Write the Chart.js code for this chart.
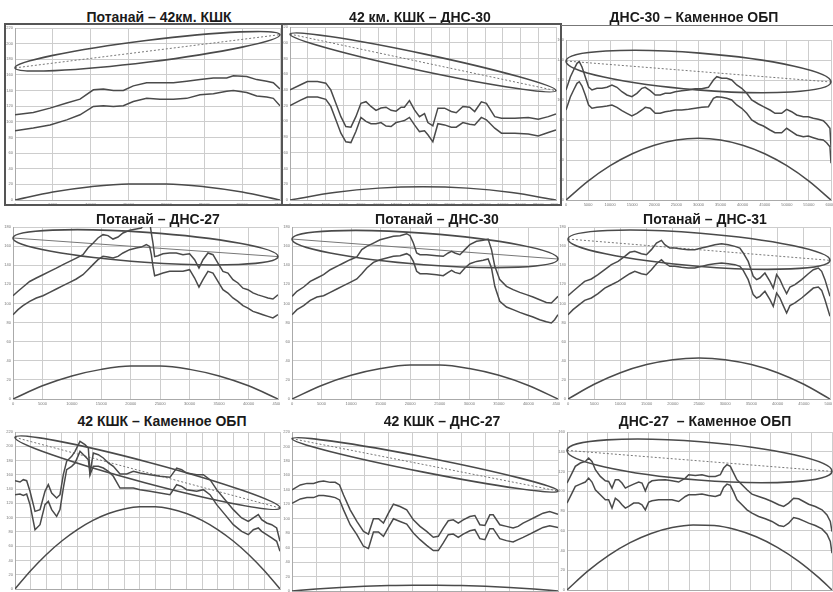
<!DOCTYPE html>
<html>
<head>
<meta charset="utf-8">
<script src="https://cdn.jsdelivr.net/npm/chart.js@4.4.1/dist/chart.umd.min.js"></script>
<style>
  html, body { margin: 0; padding: 0; background: #fff; width: 833px; height: 592px; overflow: hidden; }
  canvas { position: absolute; }
  .ttl { position: absolute; width: 300px; text-align: center; font: bold 14px "Liberation Sans", Arial, sans-serif; line-height: 16px; color: #1a1a1a; white-space: pre; }
  .frm { position: absolute; box-sizing: border-box; pointer-events: none; }
</style>
</head>
<body>
<script>
// заголовки панелей
const titles = ['Потанай – 42км. КШК', '42 км. КШК – ДНС-30', 'ДНС-30 – Каменное ОБП',
  'Потанай – ДНС-27', 'Потанай – ДНС-30', 'Потанай – ДНС-31',
  '42 КШК – Каменное ОБП', '42 КШК – ДНС-27', 'ДНС-27  – Каменное ОБП'];

// шкалы
const xMax = [35000, 30000, 60000, 45000, 45000, 50000, 85000, 55000, 63000];
const xStep = [5000, 2000, 5000, 5000, 5000, 5000, 5000, 5000, 5000];
const yMax = [220, 220, 160, 180, 180, 180, 220, 220, 160];

// 1. Потанай – 42км. КШК
const p1X = [0,2420,4620,6830,8590,10350,11670,12990,14310,15630,17390,19150,20920,22680,24440,26200,27960,28840,30600,31920,33250,34120,35000];
const p1Upper = [109,112,117.5,124,129,141,142,140,140,146,150,150,150,152,154,156,156,159,158,154,152,150,142];
const p1Lower = [88.5,92,96,102.5,109,119.7,120.5,119.7,120.5,126,130,129,129,130,134.6,136,139,140,137.6,133,131.6,130,120.5];
const p1ArcX = [0,5000,10000,15000,20000,25000,30000,35000];
const p1Arc = [0,10.3,17.1,20.6,20.6,17.1,10.3,0];
const p1Zone = [0,169,35000,211.5,14];

// 2. 42 км. КШК – ДНС-30
const p2X = [0,1200,1960,3100,4040,4600,5170,5740,6300,6870,7430,8000,8570,9130,9700,10260,10830,11400,11960,12530,12900,13470,14040,14600,15170,15550,16110,16680,17430,18190,18750,19500,20260,20830,21580,22150,23090,23850,25360,26870,28000,29130,30000];
const p2Upper = [140,146.5,150.7,150.7,148.6,140,123,106,93.4,92.6,106,123,125,119,114,117,118,114,113,118,118,126.5,114.6,106,110,98.5,94.3,116.8,116.8,112.5,111,119,118,112.5,124.8,123,106,104,104,105,102.8,106,109.5];
const p2Lower = [120,127,131,131,128,119,102,85,74,73,87,105,100,97,97,98.5,94,93.4,98.5,100,101,105,95.5,87,88,83,74,97,95.5,92.6,92.6,98.5,96.4,95.5,105,102,91.3,85,85,84,81.5,85.8,89];
const p2ArcX = [0,5000,10000,15000,20000,25000,30000];
const p2Arc = [0,9.4,15.1,17,15.1,9.4,0];
const p2Zone = [0,211,30000,139,11];

// 3. ДНС-30 – Каменное ОБП
const p3X = [0,980,1730,2490,3010,3620,4370,5120,5880,7010,8140,9270,10400,11530,12660,13790,14920,16050,17180,17940,19070,20200,21330,22460,23590,24720,26220,27730,29240,30750,32250,33380,34140,35270,36400,37530,38660,39790,40920,42050,43560,44690,46190,47320,48830,49960,51090,52220,53730,54860,55990,57120,58250,59010,59760,60000];
const p3Upper = [110,123,130,136.7,138.3,133,123,113,110,111.7,111.7,112.7,115,112.7,108.3,105,103.3,106.7,111.7,112.7,109.3,105,105,106.7,106.7,108.3,109.3,110,111.3,111.3,112.7,120,123.3,121.7,121.7,120,115,111.7,106.7,100,96,93.3,90,86.7,86.7,90.7,88.3,85,83.3,83.3,81.7,80.7,79.3,76,71.7,53];
const p3Lower = [90,103,110,116.7,118.3,114,105,95,91.7,92.7,93.3,94,95,92.7,89.3,86.7,84,86.7,90,92.7,91.7,86.7,86.7,88.3,89,90,90,90.7,91.7,92.7,93.3,101.7,103.3,102.7,101.7,100,95,91.7,86.7,80,76,74,70,67.3,67.3,71.7,68.3,65,63.3,64,62.3,60.7,60,57.3,53.3,36.7];
const p3ArcX = [0,5000,10000,15000,20000,25000,30000,35000,40000,45000,50000,55000,60000];
const p3Arc = [0,18.9,34.3,46.3,54.8,60,61.7,60,54.8,46.3,34.3,18.9,0];
const p3Zone = [0,139,60000,118,18.5];

// 4. Потанай – ДНС-27
const p4X = [0,850,1700,2830,3960,5090,6230,7360,8490,9620,10750,11880,12730,13580,14430,15280,16130,16980,17830,18680,19810,20940,21790,22640,23200,23490,23770,24050,24620,25470,26600,27730,28860,29990,30840,31580,32260,33110,33960,34800,35650,36500,37350,38200,39050,39900,40750,41600,42440,43290,44140,45000];
const p4Upper = [108,112.7,117.2,123,126.6,130,133.6,137,140.6,144,147.5,151,158,163,168.5,172,171,167.4,169.5,173.7,176.5,178,179,186,186,173.7,163,149,150,152,152.8,152.8,151,152,145.8,137,145.8,152.8,151,142.3,133.6,131.8,124.9,121.4,116,114.4,111,109,107.4,105.7,104.6,109];
const p4Lower = [88.2,93.5,97.7,102.2,105.7,108.1,111.6,115.1,118.6,122.1,125.6,130.1,135.3,140.6,145.8,149.3,148.6,147.5,149.3,152.8,156.3,158,159,161.5,159.7,151,138.8,129,130.1,131.8,133.6,133.6,133.6,135.3,126.6,117.2,124.9,133.6,131.8,123.1,114.4,110.9,105.7,102.2,97.7,95.2,91.7,90,88.2,86.5,84.8,88.2];
const p4ArcX = [0,5000,10000,15000,20000,25000,30000,35000,40000,45000];
const p4Arc = [0,13.8,24.1,31,34.5,34.5,31,24.1,13.8,0];
const p4Zone = [0,168.5,45000,149,15.7];

// 5. Потанай – ДНС-30
const p5X = [0,840,1970,3090,4220,5340,6470,7590,8720,9840,10970,11810,12650,13780,14900,16030,17150,18280,19400,19970,20530,21090,21650,22780,24470,25590,26430,27000,27560,28400,29250,30090,31210,32340,33180,33750,34310,35150,36280,37400,38530,39650,40780,41900,43030,43870,44430,45000];
const p5Upper = [107.4,112.7,117.2,123.1,126.6,130.1,135.3,138.8,142.3,145.8,148.6,156.3,159.7,163.2,166.7,168.5,170.2,170.9,173,170.9,163.2,152.8,151,151,150,149.3,152.8,154.5,152.8,151,156.3,161.5,165,166,167.4,156.3,138.8,124.9,117.9,114.4,111.6,109.2,106.7,103.9,101.1,100.5,103.9,107.4];
const p5Lower = [88.2,93.5,97.7,103.2,106.7,108.1,111.6,115.1,118.6,122.1,125.6,131.1,137.1,143,145.8,147.5,149.3,150,152.1,150,144,133.6,131.1,131.1,130.1,129,132.5,134.6,132.5,131.1,137.1,141.6,144,145.1,146.5,137.1,117.9,102.2,96.3,93.5,90.7,88.2,85.8,83,80.9,79.5,83,88.2];
const p5ArcX = [0,5000,10000,15000,20000,25000,30000,35000,40000,45000];
const p5Arc = [0,14.2,24.8,31.9,35.5,35.5,31.9,24.8,14.2,0];
const p5Zone = [0,167.4,45000,146.5,16.5];

// 6. Потанай – ДНС-31
const p6X = [0,955,1910,3180,4460,5730,7010,8280,9550,10830,11780,12740,14010,14970,15920,16880,17830,18470,19430,20380,21660,22930,24200,25480,26750,28030,29300,30570,31850,32800,33440,34390,35350,35990,36620,37580,38540,39170,39810,40450,41080,41720,42360,43310,44590,45860,46820,47770,48410,49040,50000];
const p6Upper = [108.1,112.7,117.2,123.1,125.6,130.1,135.3,140.6,144,149.3,153.5,154.5,152.1,151,156.3,163.2,166,161.5,158,158,157,156.3,156.3,158,159.7,161.5,162.5,161.5,159.7,158,152.8,144,128.4,124.9,126.6,131.8,123.1,116.1,130.1,124.9,117.2,110.2,117.2,119.6,124.9,131.1,135.3,137.1,133.6,124.9,107.4];
const p6Lower = [88.2,93.5,97.7,103.2,105.7,110.2,116.1,119.6,123.1,127.7,131.1,133.6,131.1,130.1,135.3,141.6,145.8,142.3,138.8,138.8,137.8,137.1,137.1,138.8,140.6,141.6,142.3,141.6,140.6,138.8,134.6,124.9,109.2,105.7,107.4,112.7,103.9,97,110.9,105.7,97.7,90,97.7,100.5,105.7,111.6,116.1,117.2,113.7,103.9,86.5];
const p6ArcX = [0,5000,10000,15000,20000,25000,30000,35000,40000,45000,50000];
const p6Arc = [0,15.4,27.5,36,41.2,42.9,41.2,36,27.5,15.4,0];
const p6Zone = [0,167.4,50000,145.1,17.4];

// 7. 42 КШК – Каменное ОБП
const p7X = [0,1600,2670,3740,4810,6420,8020,9620,10690,11760,13360,14430,15500,16570,18180,19250,20850,22450,23520,24060,25130,26730,28330,29940,31540,33680,35820,37960,40090,43300,46510,49720,51860,53460,55060,58270,60410,62550,64690,67360,70030,72700,74840,76450,78050,79120,80720,82330,83930,85000];
const p7Upper = [151.8,149.9,153.2,151.8,136.9,108.8,111.2,136.9,146.2,134.5,127.5,132.2,160.2,178.9,185.9,192.9,206.9,202.2,197.6,162.5,190.6,188.2,183.6,176.6,171.9,161.1,161.1,164.9,162.5,160.2,157.9,156.5,169.5,167.2,162.5,160.2,160.2,153.2,139.2,125.2,111.2,99.5,94.8,99.5,104.2,97.2,92.5,90.1,85.5,66.8];
const p7Lower = [132.2,133.1,131.2,133.1,118.2,83.1,90.1,118.2,122.8,111.2,101.8,111.2,141.5,167.2,171.9,176.6,192.9,185.9,181.2,160.2,171.9,171.9,169.5,164.9,157.9,141.5,141.5,141.5,139.2,136.9,134.5,132.2,146.2,143.9,139.2,136.9,139.2,132.2,118.2,104.2,90.1,80.8,76.1,83.1,85.5,80.8,76.1,71.5,66.8,52.8];
const p7ArcX = [0,5000,10000,15000,20000,25000,30000,35000,40000,45000,50000,55000,60000,65000,70000,75000,80000,85000];
const p7Arc = [0,25.6,48.1,67.3,83.3,96.2,105.8,112.2,115.4,115.4,112.2,105.8,96.2,83.3,67.3,48.1,25.6,0];
const p7Zone = [0,212.5,85000,113.5,15];

// 8. 42 КШК – ДНС-27
const p8X = [0,1720,3090,4470,5500,6530,7910,8940,9830,10660,12030,13410,14780,15810,16840,17880,18910,19940,20970,22340,23720,25090,26470,27840,29220,30250,31280,32310,33340,34380,35410,36780,37810,38840,39880,40910,41600,42970,44340,45720,46750,47780,49160,50530,51910,53280,55000];
const p8Upper = [139.8,146.7,148.9,148.9,151.2,152.2,150.3,150.3,146.7,132.9,112.3,96.2,82.5,78.8,99.9,99.9,93.9,107.7,120.1,116.9,112.3,98.5,89.4,82.5,74.3,75.6,87.1,97.2,98.5,93.9,98.5,103.1,104.5,91.7,90.7,105.4,105.4,91.7,89.4,87.1,89.4,93.9,98.5,103.1,107.7,110,106.3];
const p8Lower = [121.4,127.4,129.2,129.2,132,132,130.6,129.2,126,112.3,91.7,77.9,61.9,58.7,81.6,81.6,75.6,88,99.9,96.2,92.6,80.2,71,63.2,55.9,55.9,66.5,77.9,78.8,74.2,78.8,83.4,84.8,72.4,71,86.2,86.2,72.4,69.7,67.8,71,74.2,78.8,83.4,88,90.3,88];
const p8ArcX = [0,5000,10000,15000,20000,25000,30000,35000,40000,45000,50000,55000];
const p8Arc = [0,2.7,4.9,6.5,7.6,8.1,8.1,7.6,6.5,4.9,2.7,0];
const p8Zone = [0,210.8,55000,138.4,10.5];

// 9. ДНС-27 – Каменное ОБП
const p9X = [0,1190,1980,3170,4360,5150,5940,6740,7920,9110,9900,10700,11490,12280,13070,13870,14660,15850,17040,17830,18620,19410,20210,21790,23380,24960,26550,28130,28920,30510,32090,33680,35260,36450,37240,38030,38830,39620,40410,41600,42790,43980,45560,47150,48730,50320,51510,52690,53880,55070,56260,57450,59030,60620,61810,62600,63000];
const p9Upper = [108.3,118.4,125.2,128.6,130.2,133.6,130.2,121.8,115,110.6,109.9,103.2,111.6,111.6,108.3,103.2,104.9,107.2,109.3,108.3,100.5,108.3,110.6,111.3,111.6,110.6,109.3,113.3,116.7,116,116.7,115,115,116.7,123.5,126.9,125.2,118.4,111.6,106.6,101.5,97.1,94.7,92.4,89.6,86.3,84.6,88,93,92.4,89.6,86.9,84.6,81.2,76.1,69.4,59.2];
const p9Lower = [88,98.1,104.9,107.2,109.3,113.3,109.3,101.5,96.4,91.3,91.3,82.9,93,90.3,86.3,82.9,84.6,88,88,86.3,81.2,89,90.3,91.3,91.3,91.3,89.6,94.7,96.4,96.4,97.1,95.7,94.7,96.4,103.9,107.2,105.9,99.1,91.3,86.3,81.2,77.8,74.4,72.1,69.4,65.3,64.3,67.7,73.4,72.1,70,67.7,65.3,61.9,56.5,49.1,37.2];
const p9ArcX = [0,5000,10000,15000,20000,25000,30000,35000,40000,45000,50000,55000,60000,63000];
const p9Arc = [0,19.3,35.3,47.9,57.2,63.2,65.8,65.2,61.2,53.9,43.2,29.3,12,0];
const p9Zone = [0,141.4,63000,120.1,19.5];

const panels = [
  [p1X, p1Upper, p1Lower, p1ArcX, p1Arc, p1Zone],
  [p2X, p2Upper, p2Lower, p2ArcX, p2Arc, p2Zone],
  [p3X, p3Upper, p3Lower, p3ArcX, p3Arc, p3Zone],
  [p4X, p4Upper, p4Lower, p4ArcX, p4Arc, p4Zone],
  [p5X, p5Upper, p5Lower, p5ArcX, p5Arc, p5Zone],
  [p6X, p6Upper, p6Lower, p6ArcX, p6Arc, p6Zone],
  [p7X, p7Upper, p7Lower, p7ArcX, p7Arc, p7Zone],
  [p8X, p8Upper, p8Lower, p8ArcX, p8Arc, p8Zone],
  [p9X, p9Upper, p9Lower, p9ArcX, p9Arc, p9Zone]
];

// раскладка: область графика [left, top, right, bottom] в пикселях
const boxes = [
  [15, 28, 280, 200], [290, 27, 556, 200], [566, 40, 831, 200],
  [13, 227, 278, 399], [292, 227, 558, 399], [568, 227, 830, 399],
  [15, 432, 280, 589], [292, 432, 558, 591], [567, 432, 832, 590]
];
const titlePos = [[159, 17], [420, 17], [694, 17], [158, 219], [437, 219], [705, 219], [162, 421], [442, 421], [705, 421]];
const midDash = [[2, 2], [2, 2], [2, 2], [], [], [2, 2], [2, 2], [2, 2], [2, 2]];
const AXW = 12, AXH = 9, PAD = 2;
const INK = '#4a4a4a';

// эллипс (зона Френеля) по концам трассы
const fresnelPlugin = {
  id: 'fresnel',
  afterDatasetsDraw(chart, args, opts) {
    const z = opts.zone;
    const xs = chart.scales.x, ys = chart.scales.y, c = chart.ctx;
    const x1 = xs.getPixelForValue(z[0]), y1 = ys.getPixelForValue(z[1]);
    const x2 = xs.getPixelForValue(z[2]), y2 = ys.getPixelForValue(z[3]);
    const ang = Math.atan2(y2 - y1, x2 - x1);
    const a = Math.hypot(x2 - x1, y2 - y1) / 2;
    const b = Math.abs(ys.getPixelForValue(0) - ys.getPixelForValue(z[4])) * Math.cos(ang);
    c.save();
    c.strokeStyle = INK;
    c.lineWidth = 1.6;
    c.beginPath();
    c.ellipse((x1 + x2) / 2, (y1 + y2) / 2, a, b, ang, 0, Math.PI * 2);
    c.stroke();
    c.restore();
  }
};

const pts = (xs, ys) => xs.map((x, i) => ({ x: x, y: ys[i] }));

panels.forEach((p, i) => {
  const [L, T, R, B] = boxes[i];
  const cv = document.createElement('canvas');
  cv.width = R - L + AXW + PAD;
  cv.height = B - T + PAD + AXH;
  cv.style.left = (L - AXW) + 'px';
  cv.style.top = (T - PAD) + 'px';
  document.body.appendChild(cv);

  const t = document.createElement('div');
  t.className = 'ttl';
  t.textContent = titles[i];
  t.style.left = (titlePos[i][0] - 150) + 'px';
  t.style.top = (titlePos[i][1] - 8) + 'px';
  document.body.appendChild(t);

  const z = p[5];
  const line = { showLine: true, pointRadius: 0, borderColor: INK, borderWidth: 1.5, fill: false };

  new Chart(cv.getContext('2d'), {
    type: 'scatter',
    data: {
      datasets: [
        Object.assign({ data: pts(p[0], p[1]) }, line),
        Object.assign({ data: pts(p[0], p[2]) }, line),
        Object.assign({ data: pts(p[3], p[4]), cubicInterpolationMode: 'monotone' }, line),
        Object.assign({}, line, { data: [{ x: z[0], y: z[1] }, { x: z[2], y: z[3] }], borderColor: '#777', borderWidth: 1, borderDash: midDash[i] })
      ]
    },
    options: {
      responsive: false,
      animation: false,
      devicePixelRatio: 1,
      layout: { padding: { top: PAD, right: PAD, left: 0, bottom: 0 } },
      plugins: { legend: { display: false }, tooltip: { enabled: false }, fresnel: { zone: z } },
      scales: {
        x: {
          type: 'linear', min: 0, max: xMax[i],
          grid: { color: '#cdcdcd', lineWidth: 1, drawTicks: false },
          border: { color: '#aaa' },
          ticks: { stepSize: xStep[i], autoSkip: false, maxRotation: 0, padding: 2, color: '#777', font: { size: 4 }, callback: v => String(v) },
          afterFit: s => { s.height = AXH; s.paddingLeft = 0; s.paddingRight = 0; }
        },
        y: {
          min: 0, max: yMax[i],
          grid: { color: '#cdcdcd', lineWidth: 1, drawTicks: false },
          border: { color: '#aaa' },
          ticks: { stepSize: 20, padding: 2, color: '#777', font: { size: 4 } },
          afterFit: s => { s.width = AXW; s.paddingTop = 0; s.paddingBottom = 0; }
        }
      }
    },
    plugins: [fresnelPlugin]
  });
});

// рамки верхнего ряда
[[4, 23, 279, 183, '2px solid #555'], [281, 23, 281, 183, '2px solid #555']].forEach(f => {
  const d = document.createElement('div');
  d.className = 'frm';
  Object.assign(d.style, { left: f[0] + 'px', top: f[1] + 'px', width: f[2] + 'px', height: f[3] + 'px', border: f[4] });
  document.body.appendChild(d);
});
const topLine = document.createElement('div');
topLine.className = 'frm';
Object.assign(topLine.style, { left: '561px', top: '25px', width: '272px', height: '1px', background: '#777' });
document.body.appendChild(topLine);
</script>
</body>
</html>
